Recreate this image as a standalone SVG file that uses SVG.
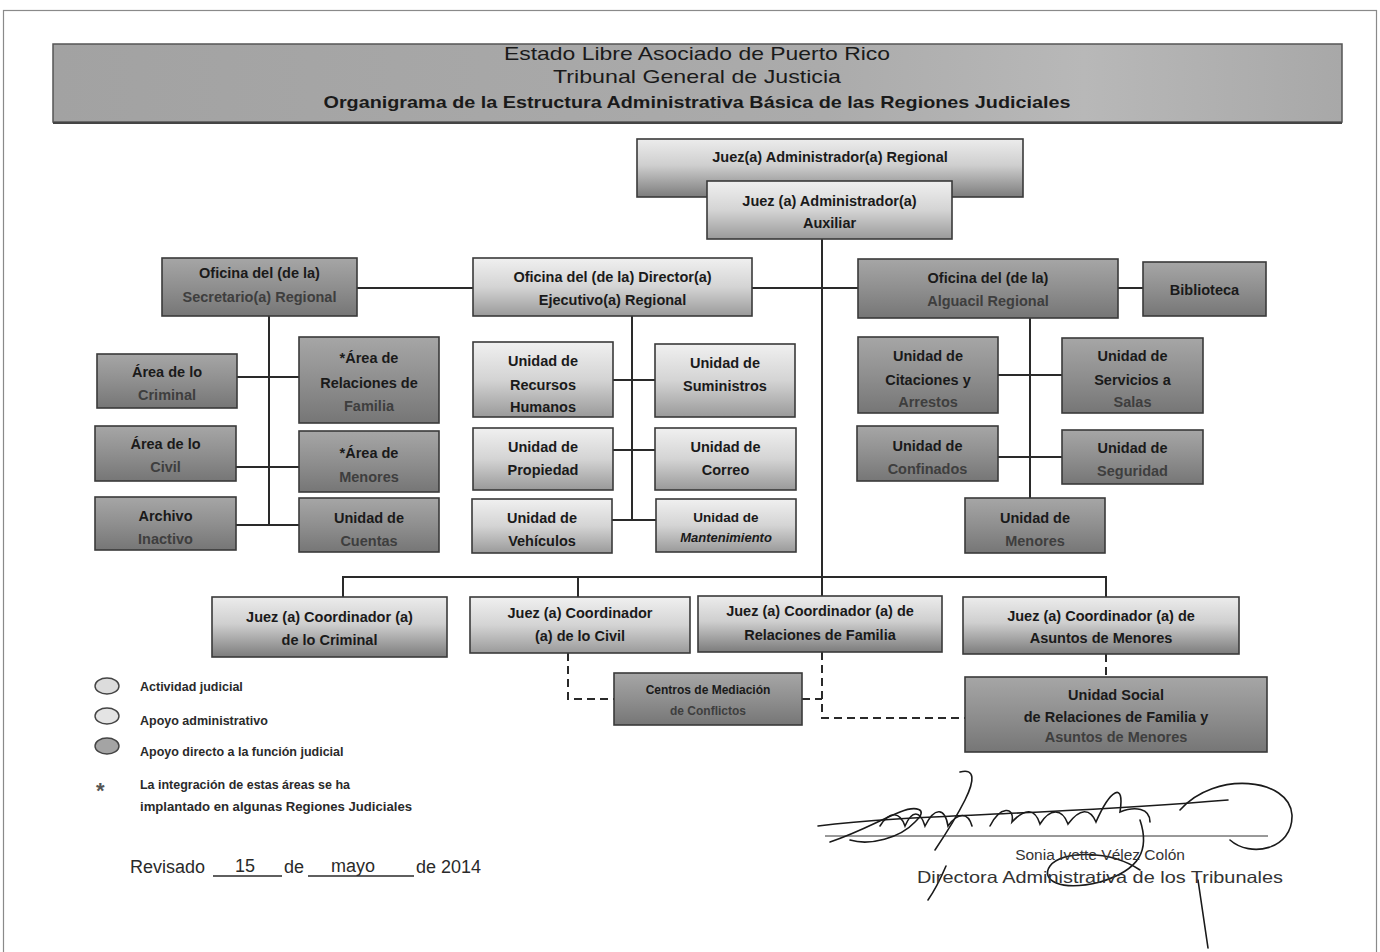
<svg xmlns="http://www.w3.org/2000/svg" width="1380" height="952" viewBox="0 0 1380 952">
<defs>
<linearGradient id="gJud" x1="0" y1="0" x2="0" y2="1"><stop offset="0" stop-color="#ececec"/><stop offset="0.45" stop-color="#cfcfcf"/><stop offset="1" stop-color="#7c7c7c"/></linearGradient>
<linearGradient id="gAdm" x1="0" y1="0" x2="0" y2="1"><stop offset="0" stop-color="#f0f0f0"/><stop offset="0.5" stop-color="#d4d4d4"/><stop offset="1" stop-color="#9a9a9a"/></linearGradient>
<linearGradient id="gDir" x1="0" y1="0" x2="0" y2="1"><stop offset="0" stop-color="#a6a6a6"/><stop offset="0.5" stop-color="#8f8f8f"/><stop offset="1" stop-color="#767676"/></linearGradient>
<linearGradient id="gHead" x1="0" y1="0" x2="1" y2="0"><stop offset="0" stop-color="#a2a2a2"/><stop offset="0.6" stop-color="#ababab"/><stop offset="0.8" stop-color="#b8b8b8"/><stop offset="1" stop-color="#a8a8a8"/></linearGradient>
</defs>
<style>
.box{stroke:#3a3a3a;stroke-width:1.6}
.jud{fill:url(#gJud)}
.adm{fill:url(#gAdm)}
.dir{fill:url(#gDir)}
.t{font-family:"Liberation Sans",Arial,sans-serif;font-weight:bold;font-size:14.5px;fill:#1a1a1a;text-anchor:middle}
.s{font-size:12px}
.lo{fill:#3e3e3e}
.ln{stroke:#2a2a2a;stroke-width:2;fill:none}
.dash{stroke:#2a2a2a;stroke-width:2;fill:none;stroke-dasharray:8 5}
.lg{font-family:"Liberation Sans",Arial,sans-serif;font-size:12.5px;font-weight:bold;fill:#2a2a2a}
.h{font-family:"Liberation Sans",Arial,sans-serif;fill:#1a1a1a;text-anchor:middle}
.sig{stroke:#1a1a1a;stroke-width:1.6;fill:none;stroke-linecap:round}
.rv{font-family:"Liberation Sans",Arial,sans-serif;font-size:18px;fill:#2a2a2a}
</style>
<rect x="0" y="0" width="1380" height="952" fill="#ffffff"/>
<rect x="3.5" y="10.5" width="1373" height="960" fill="none" stroke="#8a8a8a" stroke-width="1.2"/>

<g id="header">
<rect x="53" y="44" width="1289" height="78" fill="url(#gHead)" stroke="#555" stroke-width="1.5"/>
<line x1="53" y1="123" x2="1342" y2="123" stroke="#444" stroke-width="2"/>
<text class="h" x="697" y="60" font-size="19" textLength="386" lengthAdjust="spacingAndGlyphs">Estado Libre Asociado de Puerto Rico</text>
<text class="h" x="697" y="83" font-size="19" textLength="288" lengthAdjust="spacingAndGlyphs">Tribunal General de Justicia</text>
<text class="h" x="697" y="108" font-size="17" font-weight="bold" textLength="747" lengthAdjust="spacingAndGlyphs">Organigrama de la Estructura Administrativa Básica de las Regiones Judiciales</text>
</g>

<g id="connectors">
<line class="ln" x1="822" y1="239" x2="822" y2="596"/>
<line class="ln" x1="357" y1="288" x2="473" y2="288"/>
<line class="ln" x1="752" y1="288" x2="858" y2="288"/>
<line class="ln" x1="1118" y1="288" x2="1143" y2="288"/>
<line class="ln" x1="269" y1="316" x2="269" y2="525"/>
<line class="ln" x1="237" y1="377" x2="299" y2="377"/>
<line class="ln" x1="236" y1="467" x2="299" y2="467"/>
<line class="ln" x1="236" y1="525" x2="299" y2="525"/>
<line class="ln" x1="632" y1="316" x2="632" y2="520"/>
<line class="ln" x1="613" y1="380" x2="655" y2="380"/>
<line class="ln" x1="613" y1="450" x2="655" y2="450"/>
<line class="ln" x1="612" y1="520" x2="656" y2="520"/>
<line class="ln" x1="1030" y1="318" x2="1030" y2="498"/>
<line class="ln" x1="998" y1="375" x2="1062" y2="375"/>
<line class="ln" x1="998" y1="457" x2="1062" y2="457"/>
<path class="ln" d="M343 597 V577 H1106 V597"/>
<line class="ln" x1="578" y1="577" x2="578" y2="597"/>
<path class="dash" d="M568 653 V699 H614"/>
<path class="dash" d="M802 699 H822"/>
<path class="dash" d="M822 652 V718 H965"/>
<path class="dash" d="M1106 654 V677"/>
</g>

<g id="juez-regional"><rect class="box jud" x="637" y="139" width="386" height="58"/><text class="t" x="830" y="162">Juez(a) Administrador(a) Regional</text></g>
<g id="juez-auxiliar"><rect class="box adm" x="707" y="181" width="245" height="58"/><text class="t" x="829.5" y="206">Juez (a) Administrador(a)</text><text class="t" x="829.5" y="228">Auxiliar</text></g>

<g id="secretario"><rect class="box dir" x="162" y="258" width="195" height="58"/><text class="t" x="259.5" y="278">Oficina del (de la)</text><text class="t lo" x="259.5" y="302">Secretario(a) Regional</text></g>
<g id="director"><rect class="box adm" x="473" y="258" width="279" height="58"/><text class="t" x="612.5" y="282">Oficina del (de la) Director(a)</text><text class="t" x="612.5" y="305">Ejecutivo(a) Regional</text></g>
<g id="alguacil"><rect class="box dir" x="858" y="259" width="260" height="59"/><text class="t" x="988" y="283">Oficina del (de la)</text><text class="t lo" x="988" y="306">Alguacil Regional</text></g>
<g id="biblioteca"><rect class="box dir" x="1143" y="262" width="123" height="54"/><text class="t" x="1204.5" y="295">Biblioteca</text></g>

<g id="area-criminal"><rect class="box dir" x="97" y="354" width="140" height="54"/><text class="t" x="167" y="377">Área de lo</text><text class="t lo" x="167" y="400">Criminal</text></g>
<g id="area-familia"><rect class="box dir" x="299" y="337" width="140" height="86"/><text class="t" x="369" y="363">*Área de</text><text class="t" x="369" y="388">Relaciones de</text><text class="t lo" x="369" y="411">Familia</text></g>
<g id="area-civil"><rect class="box dir" x="95" y="426" width="141" height="55"/><text class="t" x="165.5" y="449">Área de lo</text><text class="t lo" x="165.5" y="472">Civil</text></g>
<g id="area-menores"><rect class="box dir" x="299" y="431" width="140" height="61"/><text class="t" x="369" y="458">*Área de</text><text class="t lo" x="369" y="482">Menores</text></g>
<g id="archivo"><rect class="box dir" x="95" y="497" width="141" height="53"/><text class="t" x="165.5" y="521">Archivo</text><text class="t lo" x="165.5" y="544">Inactivo</text></g>
<g id="cuentas"><rect class="box dir" x="299" y="498" width="140" height="54"/><text class="t" x="369" y="523">Unidad de</text><text class="t lo" x="369" y="546">Cuentas</text></g>

<g id="recursos"><rect class="box adm" x="473" y="342" width="140" height="75"/><text class="t" x="543" y="366">Unidad de</text><text class="t" x="543" y="390">Recursos</text><text class="t" x="543" y="412">Humanos</text></g>
<g id="suministros"><rect class="box adm" x="655" y="344" width="140" height="73"/><text class="t" x="725" y="368">Unidad de</text><text class="t" x="725" y="391">Suministros</text></g>
<g id="propiedad"><rect class="box adm" x="473" y="428" width="140" height="62"/><text class="t" x="543" y="452">Unidad de</text><text class="t" x="543" y="475">Propiedad</text></g>
<g id="correo"><rect class="box adm" x="655" y="428" width="141" height="62"/><text class="t" x="725.5" y="452">Unidad de</text><text class="t" x="725.5" y="475">Correo</text></g>
<g id="vehiculos"><rect class="box adm" x="472" y="499" width="140" height="54"/><text class="t" x="542" y="523">Unidad de</text><text class="t" x="542" y="546">Vehículos</text></g>
<g id="mantenimiento"><rect class="box adm" x="656" y="499" width="140" height="53"/><text class="t" x="726" y="522" style="font-size:13.5px">Unidad de</text><text class="t" x="726" y="542" style="font-size:13px;font-style:italic">Mantenimiento</text></g>

<g id="citaciones"><rect class="box dir" x="858" y="337" width="140" height="76"/><text class="t" x="928" y="361">Unidad de</text><text class="t" x="928" y="385">Citaciones y</text><text class="t lo" x="928" y="407">Arrestos</text></g>
<g id="servicios"><rect class="box dir" x="1062" y="338" width="141" height="75"/><text class="t" x="1132.5" y="361">Unidad de</text><text class="t" x="1132.5" y="385">Servicios a</text><text class="t lo" x="1132.5" y="407">Salas</text></g>
<g id="confinados"><rect class="box dir" x="857" y="426" width="141" height="55"/><text class="t" x="927.5" y="451">Unidad de</text><text class="t lo" x="927.5" y="474">Confinados</text></g>
<g id="seguridad"><rect class="box dir" x="1062" y="430" width="141" height="54"/><text class="t" x="1132.5" y="453">Unidad de</text><text class="t lo" x="1132.5" y="476">Seguridad</text></g>
<g id="unidad-menores"><rect class="box dir" x="965" y="498" width="140" height="55"/><text class="t" x="1035" y="523">Unidad de</text><text class="t lo" x="1035" y="546">Menores</text></g>

<g id="coord-criminal"><rect class="box jud" x="212" y="597" width="235" height="60"/><text class="t" x="329.5" y="622">Juez (a) Coordinador (a)</text><text class="t" x="329.5" y="645">de lo Criminal</text></g>
<g id="coord-civil"><rect class="box adm" x="470" y="597" width="220" height="56"/><text class="t" x="580" y="618">Juez (a) Coordinador</text><text class="t" x="580" y="641">(a) de lo Civil</text></g>
<g id="coord-familia"><rect class="box jud" x="698" y="596" width="244" height="56"/><text class="t" x="820" y="616">Juez (a) Coordinador (a) de</text><text class="t" x="820" y="640">Relaciones de Familia</text></g>
<g id="coord-menores"><rect class="box jud" x="963" y="597" width="276" height="57"/><text class="t" x="1101" y="621">Juez (a) Coordinador (a) de</text><text class="t" x="1101" y="643">Asuntos de Menores</text></g>
<g id="centros"><rect class="box dir" x="614" y="673" width="188" height="52"/><text class="t s" x="708" y="694">Centros de Mediación</text><text class="t s lo" x="708" y="715">de Conflictos</text></g>
<g id="unidad-social"><rect class="box dir" x="965" y="677" width="302" height="75"/><text class="t" x="1116" y="700">Unidad Social</text><text class="t" x="1116" y="722">de Relaciones de Familia y</text><text class="t lo" x="1116" y="742">Asuntos de  Menores</text></g>

<g id="legend">
<ellipse cx="107" cy="686" rx="12" ry="8" fill="#dcdcdc" stroke="#444" stroke-width="1.4"/>
<ellipse cx="107" cy="716" rx="12" ry="8" fill="#e4e4e4" stroke="#444" stroke-width="1.4"/>
<ellipse cx="107" cy="746" rx="12" ry="8" fill="#a4a4a4" stroke="#444" stroke-width="1.4"/>
<text class="lg" x="140" y="691">Actividad judicial</text>
<text class="lg" x="140" y="725">Apoyo administrativo</text>
<text class="lg" x="140" y="756">Apoyo directo a la función judicial</text>
<text class="lg" x="96" y="798" style="font-size:22px;fill:#555">*</text>
<text class="lg" x="140" y="789" textLength="210" lengthAdjust="spacingAndGlyphs">La integración de estas áreas se ha</text>
<text class="lg" x="140" y="811" textLength="272" lengthAdjust="spacingAndGlyphs">implantado en algunas Regiones Judiciales</text>
</g>

<g id="revisado">
<text class="rv" x="130" y="873">Revisado</text>
<text class="rv" x="235" y="872">15</text>
<line x1="213" y1="876" x2="282" y2="876" stroke="#2a2a2a" stroke-width="1.4"/>
<text class="rv" x="284" y="873">de</text>
<text class="rv" x="331" y="872">mayo</text>
<line x1="308" y1="876" x2="414" y2="876" stroke="#2a2a2a" stroke-width="1.4"/>
<text class="rv" x="416" y="873">de 2014</text>
</g>

<g id="firma">
<line x1="825" y1="836" x2="1268" y2="836" stroke="#333" stroke-width="1"/>
<path class="sig" d="M818 826 C880 818 960 816 1040 812 C1120 808 1180 804 1228 800"/>
<path class="sig" d="M830 842 C860 832 880 820 900 812 C915 806 930 808 915 822 C900 838 870 846 850 840"/>
<path class="sig" d="M960 772 C975 768 975 780 965 800 C955 820 945 835 935 850"/>
<path class="sig" d="M880 826 C890 810 900 812 905 826 C912 810 920 810 925 826 C935 806 945 808 948 826 C958 812 968 812 972 826"/>
<path class="sig" d="M990 826 C1000 806 1015 806 1012 822 C1025 808 1035 808 1040 824 C1050 808 1062 808 1068 824 C1080 808 1090 808 1096 822 C1110 790 1125 780 1120 812 C1135 806 1150 808 1150 822"/>
<path class="sig" d="M1180 810 C1215 770 1290 778 1292 815 C1293 850 1250 858 1230 840"/>
<path class="sig" d="M1140 820 C1150 850 1140 870 1100 882 C1060 892 1040 880 1050 866 C1062 850 1110 850 1140 870"/>
<path class="sig" d="M946 866 C940 880 935 890 928 900"/>
<path class="sig" d="M1198 880 L1208 948"/>
<text font-family="'Liberation Sans',Arial,sans-serif" font-size="15.5" fill="#333" x="1100" y="860" text-anchor="middle">Sonia Ivette Vélez Colón</text>
<text font-family="'Liberation Sans',Arial,sans-serif" font-size="16.5" fill="#333" x="1100" y="883" text-anchor="middle" textLength="366" lengthAdjust="spacingAndGlyphs">Directora Administrativa de los Tribunales</text>
</g>
</svg>
